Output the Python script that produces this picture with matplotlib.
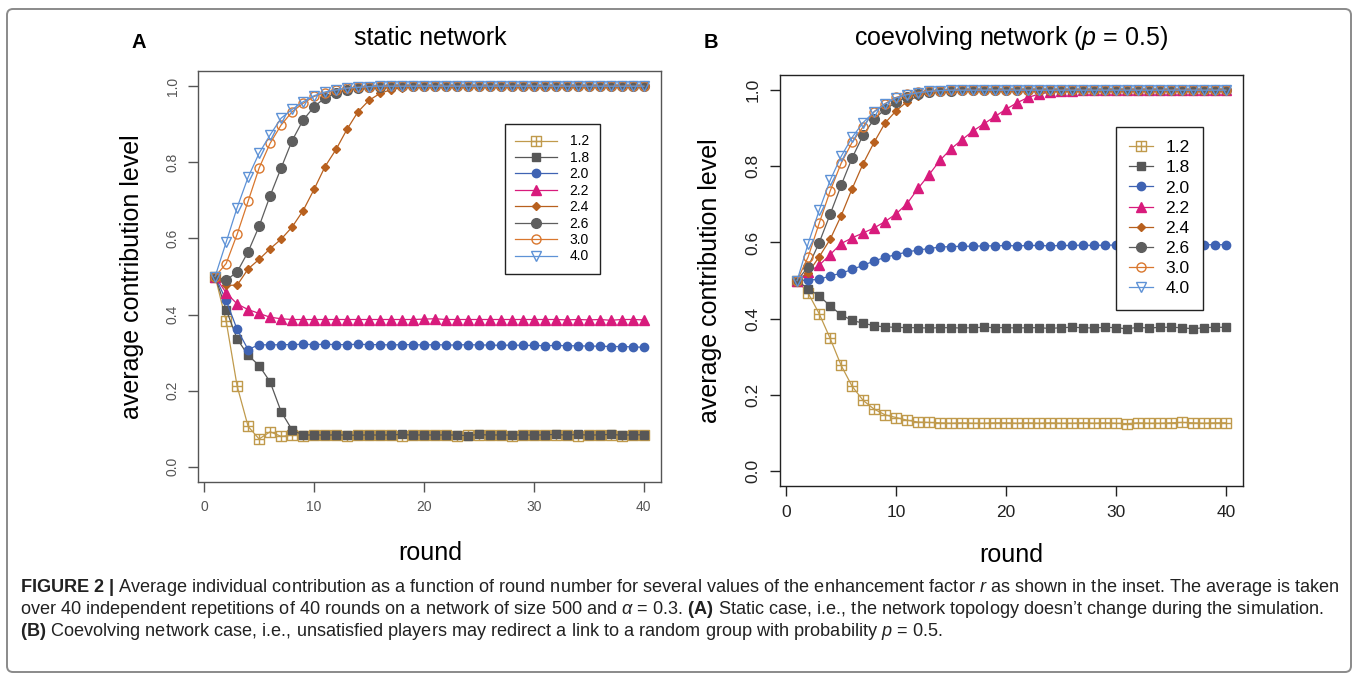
import matplotlib
matplotlib.use('Agg')
import matplotlib.pyplot as plt
from matplotlib.path import Path
from matplotlib.patches import FancyBboxPatch
from matplotlib.transforms import IdentityTransform

plt.rcParams['font.family'] = ['Liberation Sans', 'DejaVu Sans']
plt.rcParams['mathtext.fontset'] = 'custom'
plt.rcParams['mathtext.rm'] = 'Liberation Sans'
plt.rcParams['mathtext.it'] = 'Liberation Sans:italic'
plt.rcParams['mathtext.bf'] = 'Liberation Sans:bold'

W, H = 1358, 679

# ---- data -------------------------------------------------------------
rounds = list(range(1, 41))
r_labels = ['1.2', '1.8', '2.0', '2.2', '2.4', '2.6', '3.0', '4.0']
x_ticks = [0, 10, 20, 30, 40]
y_ticks = [0.0, 0.2, 0.4, 0.6, 0.8, 1.0]
y_ticklabels = ['0.0', '0.2', '0.4', '0.6', '0.8', '1.0']

# A: static network
static_12 = [0.500, 0.383, 0.212, 0.106, 0.073, 0.092, 0.080, 0.083, 0.082, 0.083,
             0.083, 0.084, 0.082, 0.083, 0.083, 0.084, 0.083, 0.082, 0.083, 0.084,
             0.083, 0.083, 0.082, 0.083, 0.084, 0.083, 0.083, 0.082, 0.083, 0.083,
             0.084, 0.083, 0.083, 0.082, 0.083, 0.084, 0.083, 0.082, 0.083, 0.083]
static_18 = [0.500, 0.413, 0.336, 0.293, 0.266, 0.223, 0.145, 0.097, 0.083, 0.084,
             0.083, 0.084, 0.083, 0.083, 0.084, 0.083, 0.084, 0.085, 0.083, 0.084,
             0.083, 0.084, 0.083, 0.082, 0.085, 0.083, 0.084, 0.083, 0.084, 0.083,
             0.084, 0.085, 0.083, 0.085, 0.083, 0.084, 0.085, 0.083, 0.084, 0.084]
static_20 = [0.500, 0.437, 0.361, 0.308, 0.321, 0.320, 0.321, 0.321, 0.322, 0.321,
             0.322, 0.321, 0.321, 0.322, 0.321, 0.321, 0.320, 0.321, 0.321, 0.320,
             0.321, 0.320, 0.320, 0.321, 0.320, 0.320, 0.319, 0.320, 0.319, 0.319,
             0.318, 0.319, 0.318, 0.318, 0.317, 0.317, 0.316, 0.316, 0.315, 0.314]
static_22 = [0.500, 0.457, 0.428, 0.413, 0.403, 0.393, 0.389, 0.387, 0.387, 0.387,
             0.387, 0.387, 0.387, 0.387, 0.387, 0.387, 0.387, 0.387, 0.387, 0.388,
             0.389, 0.387, 0.387, 0.387, 0.387, 0.387, 0.387, 0.387, 0.387, 0.387,
             0.387, 0.387, 0.386, 0.387, 0.386, 0.387, 0.385, 0.387, 0.387, 0.386]
static_24 = [0.500, 0.477, 0.477, 0.520, 0.545, 0.573, 0.598, 0.630, 0.673, 0.729,
             0.789, 0.834, 0.887, 0.933, 0.963, 0.981, 0.991, 0.996, 0.998, 0.999,
             1.000, 1.000, 1.000, 1.000, 1.000, 1.000, 1.000, 1.000, 1.000, 1.000,
             1.000, 1.000, 1.000, 1.000, 1.000, 1.000, 1.000, 1.000, 1.000, 1.000]
static_26 = [0.500, 0.490, 0.512, 0.565, 0.632, 0.712, 0.785, 0.857, 0.911, 0.946,
             0.970, 0.981, 0.990, 0.995, 0.998, 0.999, 1.000, 1.000, 1.000, 1.000,
             1.000, 1.000, 1.000, 1.000, 1.000, 1.000, 1.000, 1.000, 1.000, 1.000,
             1.000, 1.000, 1.000, 1.000, 1.000, 1.000, 1.000, 1.000, 1.000, 1.000]
static_30 = [0.500, 0.534, 0.611, 0.698, 0.785, 0.850, 0.898, 0.933, 0.955, 0.973,
             0.983, 0.990, 0.995, 0.997, 0.999, 1.000, 1.000, 1.000, 1.000, 1.000,
             1.000, 1.000, 1.000, 1.000, 1.000, 1.000, 1.000, 1.000, 1.000, 1.000,
             1.000, 1.000, 1.000, 1.000, 1.000, 1.000, 1.000, 1.000, 1.000, 1.000]
static_40 = [0.500, 0.590, 0.681, 0.761, 0.824, 0.872, 0.916, 0.939, 0.959, 0.975,
             0.985, 0.990, 0.995, 0.997, 0.999, 1.000, 1.000, 1.000, 1.000, 1.000,
             1.000, 1.000, 1.000, 1.000, 1.000, 1.000, 1.000, 1.000, 1.000, 1.000,
             1.000, 1.000, 1.000, 1.000, 1.000, 1.000, 1.000, 1.000, 1.000, 1.000]

# B: coevolving network (p = 0.5)
coev_12 = [0.500, 0.467, 0.413, 0.348, 0.277, 0.222, 0.185, 0.162, 0.147, 0.140,
           0.133, 0.128, 0.127, 0.126, 0.125, 0.126, 0.125, 0.125, 0.126, 0.126,
           0.125, 0.126, 0.125, 0.126, 0.125, 0.125, 0.126, 0.125, 0.126, 0.125,
           0.124, 0.126, 0.125, 0.125, 0.126, 0.127, 0.126, 0.125, 0.126, 0.126]
coev_18 = [0.500, 0.478, 0.460, 0.433, 0.410, 0.395, 0.388, 0.381, 0.378, 0.377,
           0.376, 0.376, 0.375, 0.376, 0.376, 0.375, 0.376, 0.377, 0.376, 0.376,
           0.375, 0.376, 0.376, 0.374, 0.376, 0.377, 0.376, 0.375, 0.377, 0.376,
           0.373, 0.377, 0.375, 0.377, 0.377, 0.376, 0.373, 0.376, 0.377, 0.377]
coev_20 = [0.500, 0.501, 0.503, 0.512, 0.519, 0.529, 0.540, 0.551, 0.561, 0.568,
           0.575, 0.580, 0.584, 0.588, 0.589, 0.590, 0.590, 0.591, 0.591, 0.592,
           0.591, 0.592, 0.592, 0.591, 0.592, 0.592, 0.593, 0.592, 0.593, 0.593,
           0.592, 0.593, 0.593, 0.594, 0.593, 0.593, 0.594, 0.594, 0.594, 0.594]
coev_22 = [0.500, 0.522, 0.540, 0.568, 0.597, 0.612, 0.625, 0.638, 0.655, 0.675,
           0.702, 0.742, 0.778, 0.816, 0.846, 0.870, 0.893, 0.912, 0.931, 0.950,
           0.967, 0.981, 0.990, 0.995, 0.998, 0.999, 1.000, 1.000, 1.000, 1.000,
           1.000, 1.000, 1.000, 1.000, 1.000, 1.000, 1.000, 1.000, 1.000, 1.000]
coev_24 = [0.500, 0.520, 0.562, 0.608, 0.670, 0.741, 0.807, 0.863, 0.914, 0.946,
           0.970, 0.985, 0.993, 0.997, 0.999, 1.000, 1.000, 1.000, 1.000, 1.000,
           1.000, 1.000, 1.000, 1.000, 1.000, 1.000, 1.000, 1.000, 1.000, 1.000,
           1.000, 1.000, 1.000, 1.000, 1.000, 1.000, 1.000, 1.000, 1.000, 1.000]
coev_26 = [0.500, 0.536, 0.599, 0.674, 0.750, 0.822, 0.882, 0.924, 0.950, 0.968,
           0.983, 0.990, 0.995, 0.998, 0.999, 1.000, 1.000, 1.000, 1.000, 1.000,
           1.000, 1.000, 1.000, 1.000, 1.000, 1.000, 1.000, 1.000, 1.000, 1.000,
           1.000, 1.000, 1.000, 1.000, 1.000, 1.000, 1.000, 1.000, 1.000, 1.000]
coev_30 = [0.500, 0.562, 0.650, 0.735, 0.808, 0.863, 0.904, 0.944, 0.965, 0.981,
           0.990, 0.995, 0.998, 0.999, 1.000, 1.000, 1.000, 1.000, 1.000, 1.000,
           1.000, 1.000, 1.000, 1.000, 1.000, 1.000, 1.000, 1.000, 1.000, 1.000,
           1.000, 1.000, 1.000, 1.000, 1.000, 1.000, 1.000, 1.000, 1.000, 1.000]
coev_40 = [0.500, 0.597, 0.684, 0.763, 0.826, 0.876, 0.915, 0.943, 0.964, 0.980,
           0.988, 0.993, 0.997, 0.999, 1.000, 1.000, 1.000, 1.000, 1.000, 1.000,
           1.000, 1.000, 1.000, 1.000, 1.000, 1.000, 1.000, 1.000, 1.000, 1.000,
           1.000, 1.000, 1.000, 1.000, 1.000, 1.000, 1.000, 1.000, 1.000, 1.000]

static_series = [static_12, static_18, static_20, static_22, static_24, static_26, static_30, static_40]
coev_series = [coev_12, coev_18, coev_20, coev_22, coev_24, coev_26, coev_30, coev_40]

# ---- styles (R-like pch symbols) -------------------------------------
# square with a plus inside, like R's pch 12
box_plus = Path([(-1, -1), (1, -1), (1, 1), (-1, 1), (-1, -1),
                 (0, -1), (0, 1), (-1, 0), (1, 0)],
                [Path.MOVETO, Path.LINETO, Path.LINETO, Path.LINETO, Path.CLOSEPOLY,
                 Path.MOVETO, Path.LINETO, Path.MOVETO, Path.LINETO])
colors = ['#C09A4C', '#575757', '#3F63B3', '#D81B7C', '#B8601E', '#5E5E5E', '#D9772E', '#5E92D6']
markers = [box_plus, 's', 'o', '^', 'D', 'o', 'o', 'v']
msizes = [6.5, 5.5, 6.0, 6.5, 4.0, 7.0, 6.5, 7.0]
filled = [False, True, True, True, True, True, False, False]


def px(x, y):
    return x / W, 1 - y / H


fig = plt.figure(figsize=(W / 100, H / 100), dpi=100)


def panel(rect, series, tick_color, tick_size, tick_pad, leg_font, leg_anchor,
          leg_spacing, leg_handle, leg_textpad, leg_border):
    l, t, r, b = rect
    ax = fig.add_axes([l / W, 1 - b / H, (r - l) / W, (b - t) / H])
    for vals, c, m, ms, f, lab in zip(series, colors, markers, msizes, filled, r_labels):
        ax.plot(rounds, vals, color=c, lw=0.9, marker=m, ms=ms,
                mfc=c if f else 'none', mec=c, mew=1.0, label=lab)
    ax.set_xlim(-0.56, 41.56)
    ax.set_ylim(-0.04, 1.04)
    ax.set_xticks(x_ticks)
    ax.set_yticks(y_ticks)
    ax.set_yticklabels(y_ticklabels)
    for s in ax.spines.values():
        s.set_color(tick_color)
        s.set_linewidth(1.0)
    ax.tick_params(direction='out', length=7, width=1.0, color=tick_color,
                   labelcolor=tick_color, labelsize=tick_size, pad=tick_pad)
    ax.tick_params(axis='y', labelrotation=90)
    for lbl in ax.get_yticklabels():
        lbl.set_va('center')
    leg = ax.legend(loc='upper left', bbox_to_anchor=leg_anchor, borderaxespad=0,
                    fontsize=leg_font, frameon=True, fancybox=False, framealpha=1,
                    edgecolor='#222222', labelspacing=leg_spacing, handlelength=leg_handle,
                    handletextpad=leg_textpad, borderpad=leg_border)
    leg.get_frame().set_linewidth(1.0)
    return ax


axA = panel((198, 71, 661, 482), static_series, '#555555', 10, 6, 10,
            ((505 - 198) / 463, (482 - 124) / 411), 0.175, 3.0, 0.9, 0.75)
axB = panel((780, 75, 1243, 486), coev_series, '#222222', 12.5, 7, 12.5,
            ((1116 - 780) / 463, (486 - 127) / 411), 0.29, 1.4, 0.7, 0.75)

# titles, panel letters and axis labels
fig.text(*px(430, 45), 'static network', ha='center', va='baseline', fontsize=18)
fig.text(*px(1011, 45), 'coevolving network ($\\mathit{p}$ = 0.5)', ha='center', va='baseline', fontsize=18)
fig.text(*px(139, 43), 'A', ha='center', va='center', fontsize=14.5, fontweight='bold')
fig.text(*px(711, 43), 'B', ha='center', va='center', fontsize=14.5, fontweight='bold')
fig.text(*px(132, 277), 'average contribution level', rotation=90, ha='center', va='center', fontsize=18)
fig.text(*px(710, 281), 'average contribution level', rotation=90, ha='center', va='center', fontsize=18)
fig.text(*px(430, 553), 'round', ha='center', va='center', fontsize=18)
fig.text(*px(1011, 555), 'round', ha='center', va='center', fontsize=18)

# outer frame
frame = FancyBboxPatch((7, H - 672), 1344, 663, boxstyle='round,pad=0,rounding_size=6',
                       transform=IdentityTransform(), fill=False, edgecolor='#8A8A8A', lw=1.4)
fig.add_artist(frame)

# caption
caption = [
    '$\\mathbf{FIGURE\\ 2\\ |}$ Average individual contribution as a function of round number for several values '
    'of the enhancement factor $\\mathit{r}$ as shown in the inset. The average is taken',
    'over 40 independent repetitions of 40 rounds on a network of size 500 and $\\alpha$ = 0.3. '
    '$\\mathbf{(A)}$ Static case, i.e., the network topology doesn\u2019t change during the simulation.',
    '$\\mathbf{(B)}$ Coevolving network case, i.e., unsatisfied players may redirect a link to a random '
    'group with probability $\\mathit{p}$ = 0.5.',
]
cap_y = [587, 609, 631]
texts = [fig.text(*px(20, y), s, ha='left', va='center', fontsize=11, color='#222222')
         for s, y in zip(caption, cap_y)]
renderer = fig.canvas.get_renderer()
w0 = texts[0].get_window_extent(renderer).width
size = 11 * 1318 / w0
for t in texts:
    t.set_fontsize(size)

fig.savefig('out.png', dpi=100)
